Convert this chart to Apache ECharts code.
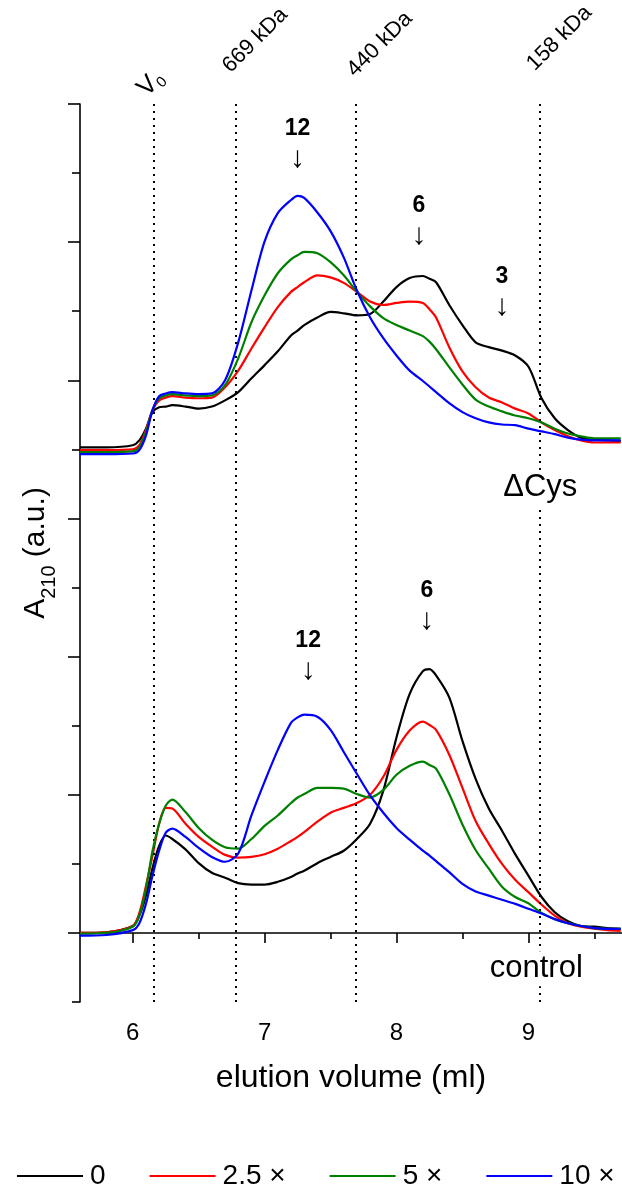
<!DOCTYPE html>
<html><head><meta charset="utf-8">
<script src="https://cdn.jsdelivr.net/npm/echarts@6/dist/echarts.min.js"></script>
<style>html,body{margin:0;padding:0;background:#fff}#c{width:622px;height:1187px}</style>
</head><body><div id="c"></div>
<script>
// elution volume (ml)
const volume = [5.6, 5.8, 6.0, 6.05, 6.1, 6.15, 6.2, 6.25, 6.3, 6.4, 6.5, 6.6, 6.7, 6.8, 6.9, 7.0, 7.1, 7.2, 7.25, 7.3, 7.4, 7.5, 7.6, 7.7, 7.8, 7.9, 8.0, 8.1, 8.2, 8.25, 8.3, 8.4, 8.5, 8.6, 8.7, 8.8, 8.9, 9.0, 9.1, 9.2, 9.3, 9.4, 9.5, 9.6, 9.7];

// ΔCys traces (stacked above control, A210 a.u.)
const dcys0  = [7.03, 7.03, 7.06, 7.13, 7.30, 7.54, 7.61, 7.62, 7.64, 7.62, 7.59, 7.62, 7.71, 7.83, 8.03, 8.22, 8.42, 8.65, 8.72, 8.80, 8.91, 8.99, 8.97, 8.94, 8.96, 9.14, 9.35, 9.48, 9.51, 9.47, 9.42, 9.09, 8.80, 8.55, 8.48, 8.43, 8.36, 8.20, 7.74, 7.45, 7.28, 7.17, 7.14, 7.13, 7.12];
const dcys25 = [6.99, 6.99, 7.00, 7.06, 7.28, 7.57, 7.71, 7.75, 7.77, 7.75, 7.74, 7.75, 7.90, 8.14, 8.46, 8.77, 9.06, 9.28, 9.35, 9.42, 9.52, 9.49, 9.41, 9.28, 9.14, 9.09, 9.12, 9.14, 9.12, 9.03, 8.91, 8.48, 8.13, 7.90, 7.75, 7.68, 7.59, 7.52, 7.39, 7.28, 7.19, 7.13, 7.10, 7.10, 7.10];
const dcys5  = [6.96, 6.96, 6.97, 7.03, 7.25, 7.57, 7.74, 7.78, 7.80, 7.78, 7.77, 7.78, 7.93, 8.32, 8.84, 9.23, 9.55, 9.75, 9.81, 9.86, 9.84, 9.71, 9.52, 9.28, 9.07, 8.90, 8.80, 8.72, 8.64, 8.56, 8.45, 8.19, 7.94, 7.72, 7.62, 7.55, 7.49, 7.45, 7.39, 7.30, 7.23, 7.19, 7.16, 7.16, 7.16];
const dcys10 = [6.93, 6.93, 6.94, 6.99, 7.20, 7.57, 7.77, 7.81, 7.83, 7.81, 7.80, 7.81, 8.00, 8.55, 9.30, 10.01, 10.42, 10.61, 10.67, 10.64, 10.43, 10.16, 9.78, 9.30, 8.91, 8.61, 8.36, 8.14, 7.99, 7.91, 7.83, 7.67, 7.54, 7.45, 7.39, 7.36, 7.35, 7.30, 7.26, 7.22, 7.17, 7.14, 7.13, 7.13, 7.13];

// control traces
const ctrl0  = [0.00, 0.01, 0.10, 0.25, 0.54, 0.94, 1.26, 1.41, 1.36, 1.21, 1.01, 0.87, 0.80, 0.72, 0.70, 0.70, 0.74, 0.81, 0.86, 0.90, 1.01, 1.10, 1.19, 1.36, 1.58, 2.06, 2.83, 3.46, 3.79, 3.82, 3.73, 3.41, 2.78, 2.23, 1.80, 1.48, 1.14, 0.83, 0.52, 0.30, 0.17, 0.10, 0.09, 0.07, 0.06];
const ctrl25 = [0.00, 0.01, 0.10, 0.29, 0.68, 1.12, 1.58, 1.81, 1.80, 1.58, 1.39, 1.25, 1.13, 1.09, 1.10, 1.14, 1.22, 1.33, 1.39, 1.46, 1.61, 1.74, 1.81, 1.88, 2.00, 2.26, 2.65, 2.93, 3.06, 3.01, 2.94, 2.58, 2.10, 1.62, 1.29, 1.00, 0.77, 0.59, 0.41, 0.25, 0.14, 0.09, 0.06, 0.04, 0.03];
const ctrl5  = [-0.01, 0.00, 0.09, 0.25, 0.64, 1.19, 1.58, 1.84, 1.93, 1.75, 1.52, 1.35, 1.24, 1.22, 1.36, 1.55, 1.70, 1.88, 1.96, 2.01, 2.10, 2.10, 2.09, 2.01, 1.96, 2.07, 2.29, 2.42, 2.48, 2.43, 2.38, 2.01, 1.57, 1.20, 0.93, 0.67, 0.52, 0.43, 0.29, 0.20, 0.14, 0.10, 0.07, 0.06, 0.06];
const ctrl10 = [-0.04, -0.03, 0.04, 0.14, 0.42, 0.83, 1.19, 1.45, 1.51, 1.39, 1.23, 1.10, 1.03, 1.15, 1.70, 2.19, 2.65, 3.04, 3.12, 3.16, 3.13, 2.94, 2.62, 2.30, 1.99, 1.74, 1.52, 1.35, 1.19, 1.12, 1.04, 0.88, 0.71, 0.60, 0.54, 0.48, 0.42, 0.35, 0.28, 0.20, 0.14, 0.10, 0.07, 0.06, 0.06];

const seriesNames = ['0', '2.5 ×', '5 ×', '10 ×'];
const markerVolumes = [6.155, 6.775, 7.69, 9.09];
const markerLabels = ['{v|V}{s|0}', '669 kDa', '440 kDa', '158 kDa'];
const xMajorTicks = [6, 7, 8, 9];
const xMinorTicks = [6.5, 7.5, 8.5, 9.5];
const yMajorTicks = [0, 2, 4, 6, 8, 10, 12];
const yMinorTicks = [-1, 1, 3, 5, 7, 9, 11];
// oligomer annotations: label, volume, peak height
const peakLabels = ['12', '6', '3', '12', '6'];
const peakVolumes = [7.25, 8.17, 8.8, 7.33, 8.23];
const peakHeights = [10.67, 9.51, 8.44, 3.16, 3.83];
const panelLabels = ['ΔCys', 'control'];
const panelVolumes = [9.09, 9.06];
const panelHeights = [6.45, -0.52];

const colors = ['#000000', '#ff0000', '#008000', '#0000ff'];
const FONT = '"Liberation Sans", Arial, sans-serif';
const peakGaps = [22, 25, 28, 29, 33];
const markerOffsets = [[-1, -1], [-1, -27], [3, -23], [-2, -29]];

const chart = echarts.init(document.getElementById('c'), null, {renderer: 'canvas'});
const pair = arr => volume.map((v, i) => [v, arr[i]]);
const series = [];
[[ctrl0, ctrl25, ctrl5, ctrl10], [dcys0, dcys25, dcys5, dcys10]].forEach(group => {
  group.forEach((arr, i) => {
    series.push({
      type: 'line', name: seriesNames[i], data: pair(arr),
      showSymbol: false, smooth: 0.3,
      lineStyle: {color: colors[i], width: 2.2}, itemStyle: {color: colors[i]},
      z: 3 + i, silent: true
    });
  });
});
series[0].markLine = {
  silent: true, symbol: 'none', label: {show: false}, animation: false,
  lineStyle: {color: '#000', type: [2, 5], width: 2},
  data: markerVolumes.map(v => ({xAxis: v}))
};

const axisCommon = {
  axisLine: {show: true, lineStyle: {color: '#000', width: 1.6}},
  splitLine: {show: false}
};

chart.setOption({
  animation: false,
  backgroundColor: '#fff',
  grid: {left: 80, right: 0, top: 104, bottom: 185, containLabel: false},
  legend: {
    data: seriesNames, left: 12, top: 1157, icon: 'rect', itemWidth: 66, itemHeight: 2,
    itemGap: 44, textStyle: {fontFamily: FONT, fontSize: 28, color: '#000', padding: [0, 0, 0, 2]}
  },
  xAxis: [
    Object.assign({}, axisCommon, {
      type: 'value', min: 5.6, max: 9.71, position: 'bottom',
      axisTick: {show: true, customValues: xMajorTicks, length: 10, lineStyle: {color: '#000', width: 1.6}},
      axisLabel: {show: true, customValues: xMajorTicks, fontFamily: FONT, fontSize: 24, color: '#000', margin: 19},
      name: 'elution volume (ml)', nameLocation: 'middle', nameGap: 60,
      nameTextStyle: {fontFamily: FONT, fontSize: 32, color: '#000'}
    }),
    {
      type: 'value', min: 5.6, max: 9.71, position: 'bottom',
      axisLine: {show: false}, splitLine: {show: false}, axisLabel: {show: false},
      axisTick: {show: true, customValues: xMinorTicks, length: 6, lineStyle: {color: '#000', width: 1.6}}
    }
  ],
  yAxis: [
    Object.assign({}, axisCommon, {
      type: 'value', min: -1, max: 12, position: 'left',
      axisTick: {show: true, customValues: yMajorTicks, length: 12, lineStyle: {color: '#000', width: 1.6}},
      axisLabel: {show: false},
      name: '{a|A}{s|210}{a| (a.u.)}', nameLocation: 'middle', nameGap: 21, nameRotate: 90,
      nameTextStyle: {
        fontFamily: FONT, color: '#000',
        rich: {
          a: {fontFamily: FONT, fontSize: 30, lineHeight: 46, verticalAlign: 'middle', color: '#000'},
          s: {fontFamily: FONT, fontSize: 20, lineHeight: 22, verticalAlign: 'bottom', color: '#000'}
        }
      }
    }),
    {
      type: 'value', min: -1, max: 12, position: 'left',
      axisLine: {show: false}, splitLine: {show: false}, axisLabel: {show: false},
      axisTick: {show: true, customValues: yMinorTicks, length: 8, lineStyle: {color: '#000', width: 1.6}}
    }
  ],
  series: series
});

// text annotations placed through the axes' scales
const px = (x, y) => chart.convertToPixel({xAxisIndex: 0, yAxisIndex: 0}, [x, y]);
const topY = px(5.6, 12)[1];
const graphics = [];
markerVolumes.forEach((v, i) => {
  const p = px(v, 12);
  graphics.push({
    type: 'text', x: p[0] + markerOffsets[i][0], y: topY + markerOffsets[i][1], rotation: Math.PI / 4, z: 100,
    style: {
      text: markerLabels[i], x: 0, y: 0, align: 'left', verticalAlign: 'bottom',
      fontFamily: FONT, fontSize: 22, fill: '#000',
      rich: {
        v: {fontFamily: FONT, fontSize: 26, lineHeight: 30, verticalAlign: 'middle', fill: '#000'},
        s: {fontFamily: FONT, fontSize: 15, lineHeight: 16, verticalAlign: 'bottom', fill: '#000'}
      }
    }
  });
});
peakLabels.forEach((t, i) => {
  const p = px(peakVolumes[i], peakHeights[i]);
  graphics.push({
    type: 'text', x: p[0], y: p[1] - peakGaps[i], z: 100,
    style: {
      text: '{n|' + t + '}\n{a|↓}', x: 0, y: 0, align: 'center', verticalAlign: 'bottom',
      rich: {
        n: {fontFamily: FONT, fontSize: 23, fontWeight: 'bold', lineHeight: 30, fill: '#000', align: 'center'},
        a: {fontFamily: FONT, fontSize: 30, lineHeight: 30, fill: '#000', align: 'center'}
      }
    }
  });
});
panelLabels.forEach((t, i) => {
  const p = px(panelVolumes[i], panelHeights[i]);
  graphics.push({
    type: 'text', x: p[0], y: p[1], z: 100,
    style: {
      text: t, x: 0, y: 0, align: 'center', verticalAlign: 'middle',
      fontFamily: FONT, fontSize: 31, fill: '#000', backgroundColor: '#fff', padding: [2, 4]
    }
  });
});
chart.setOption({graphic: graphics});
</script>
</body></html>
